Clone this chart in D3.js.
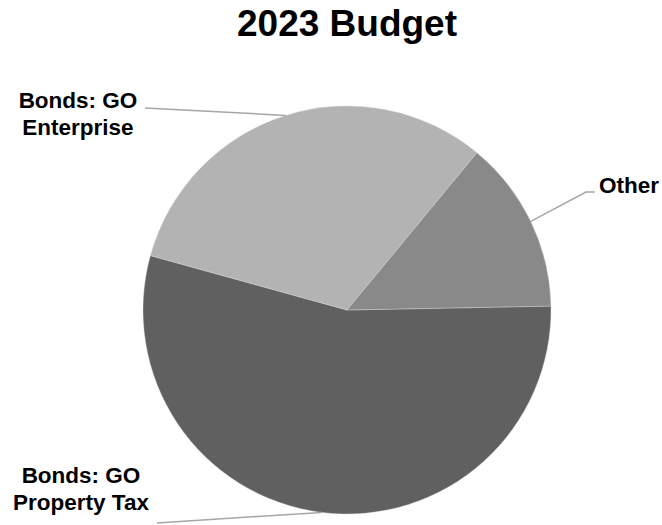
<!DOCTYPE html>
<html>
<head>
<meta charset="utf-8">
<script src="https://cdn.jsdelivr.net/npm/d3@7"></script>
<style>
  body { margin: 0; background: #fff; }
  text { font-family: "Liberation Sans", Arial, sans-serif; font-weight: bold; fill: #000; }
</style>
</head>
<body>
<div id="chart"></div>
<script>
// Chart data (share of budget, %)
var categories = ["Bonds: GO Property Tax", "Bonds: GO Enterprise", "Other"];
var values = [54.6, 31.7, 13.7];
var colors = ["#606060", "#b3b3b3", "#898989"];
// label lines (each label is two lines or one)
var labelLines = [["Bonds: GO", "Property Tax"], ["Bonds: GO", "Enterprise"], ["Other"]];

var width = 662, height = 525;
var cx = 347, cy = 310, radius = 204;
var firstSliceAngle = 88.9 * Math.PI / 180;

var svg = d3.select("#chart")
  .append("svg")
    .attr("width", width)
    .attr("height", height);

// Title
svg.append("text")
  .attr("x", 347)
  .attr("y", 36)
  .attr("text-anchor", "middle")
  .style("font-size", "37px")
  .text("2023 Budget");

var data = categories.map(function(c, i) { return { name: c, value: values[i], color: colors[i], lines: labelLines[i] }; });

var pie = d3.pie()
  .sort(null)
  .value(function(d) { return d.value; })
  .startAngle(firstSliceAngle)
  .endAngle(firstSliceAngle + 2 * Math.PI);

var arc = d3.arc()
  .innerRadius(0)
  .outerRadius(radius);

var g = svg.append("g")
  .attr("transform", "translate(" + cx + "," + cy + ")");

var arcs = pie(data);

g.selectAll("path")
  .data(arcs)
  .join("path")
    .attr("d", arc)
    .attr("fill", function(d) { return d.data.color; })
    .attr("stroke", "#d9d9d9")
    .attr("stroke-width", 0.4);

// label placement (absolute positions of label and leader start)
var labelPos = {
  "Bonds: GO Property Tax": { x: 81, y: 483, line: [[157, 523]] },
  "Bonds: GO Enterprise": { x: 78, y: 108, line: [[145, 108]] },
  "Other": { x: 599, y: 193, anchor: "start", line: [[595, 192], [586, 192]] }
};

arcs.forEach(function(d) {
  var p = labelPos[d.data.name];
  var mid = (d.startAngle + d.endAngle) / 2;
  var edge = [cx + radius * Math.sin(mid), cy - radius * Math.cos(mid)];
  var pts = p.line.concat([edge]);
  svg.append("path")
    .attr("d", d3.line()(pts))
    .attr("fill", "none")
    .attr("stroke", "#a6a6a6")
    .attr("stroke-width", 1.5);

  var t = svg.append("text")
    .attr("x", p.x)
    .attr("y", p.y)
    .attr("text-anchor", p.anchor || "middle")
    .style("font-size", "22.5px");
  d.data.lines.forEach(function(l, i) {
    t.append("tspan")
      .attr("x", p.x)
      .attr("dy", i === 0 ? 0 : 27)
      .text(l);
  });
});
</script>
</body>
</html>
